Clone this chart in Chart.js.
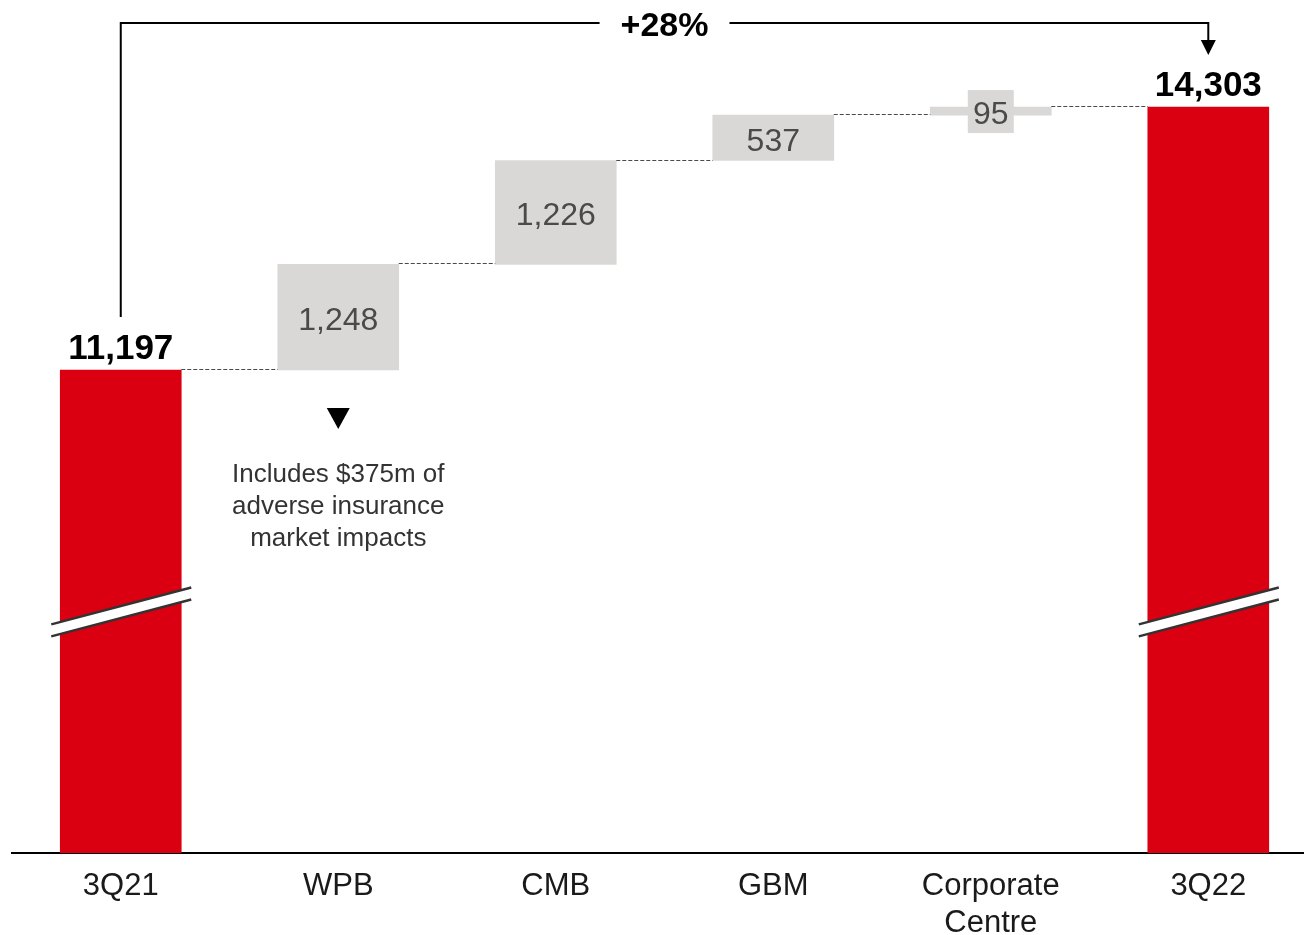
<!DOCTYPE html>
<html>
<head>
<meta charset="utf-8">
<script src="https://cdn.jsdelivr.net/npm/chart.js@4.4.0/dist/chart.umd.min.js"></script>
<style>
  html, body { margin: 0; padding: 0; background: #fff; }
  canvas { display: block; }
</style>
</head>
<body>
<canvas id="waterfall" width="1304" height="935"></canvas>
<script>
// data
const categories = ['3Q21', 'WPB', 'CMB', 'GBM', ['Corporate', 'Centre'], '3Q22'];
const startValue = 11197;
const stepValues = [1248, 1226, 537, 95];
const endValue = 14303;
const valueLabels = ['11,197', '1,248', '1,226', '537', '95', '14,303'];
const noteLines = ['Includes $375m of', 'adverse insurance', 'market impacts'];

// broken value axis
const AXIS_MIN = 5493;
const AXIS_MAX = 15567;
const BREAK_AT = 8340;

const RED = '#DB0011';
const GREY = '#D9D8D6';
const FONT = "'Liberation Sans', Arial, sans-serif";

// build floating bars
const bars = [{ x: 0, y: [AXIS_MIN, startValue] }];
let running = startValue;
stepValues.forEach(function(v, i) {
    bars.push({ x: i + 1, y: [running, running + v] });
    running += v;
});
bars.push({ x: categories.length - 1, y: [AXIS_MIN, endValue] });

const isTotal = bars.map((b, i) => i === 0 || i === bars.length - 1);

const decorPlugin = {
    id: 'decor',
    afterDatasetsDraw(chart) {
        const ctx = chart.ctx;
        const els = chart.getDatasetMeta(0).data;
        const yScale = chart.scales.y;

        // dashed connectors between bars
        ctx.save();
        ctx.strokeStyle = '#4a4a4a';
        ctx.lineWidth = 1;
        ctx.setLineDash([4, 2]);
        for (let i = 0; i < els.length - 1; i++) {
            const py = Math.round(yScale.getPixelForValue(bars[i].y[1])) - 0.5;
            ctx.beginPath();
            ctx.moveTo(els[i].x + els[i].width / 2, py);
            ctx.lineTo(els[i + 1].x - els[i + 1].width / 2, py);
            ctx.stroke();
        }
        ctx.restore();

        // axis break marks on the total bars
        const yc = yScale.getPixelForValue(BREAK_AT);
        els.forEach(function(el, i) {
            if (!isTotal[i]) return;
            const left = el.x - el.width / 2 - 9;
            const right = el.x + el.width / 2 + 10;
            const rise = (right - left) * 0.132;
            ctx.save();
            ctx.fillStyle = '#fff';
            ctx.beginPath();
            ctx.moveTo(left, yc + rise - 6);
            ctx.lineTo(right, yc - rise - 6);
            ctx.lineTo(right, yc - rise + 6);
            ctx.lineTo(left, yc + rise + 6);
            ctx.closePath();
            ctx.fill();
            ctx.strokeStyle = '#333';
            ctx.lineWidth = 2.5;
            [-6, 6].forEach(function(off) {
                ctx.beginPath();
                ctx.moveTo(left, yc + rise + off);
                ctx.lineTo(right, yc - rise + off);
                ctx.stroke();
            });
            ctx.restore();
        });

        // value labels
        els.forEach(function(el, i) {
            ctx.save();
            ctx.textAlign = 'center';
            if (isTotal[i]) {
                ctx.font = 'bold 35px ' + FONT;
                ctx.fillStyle = '#000';
                ctx.textBaseline = 'alphabetic';
                ctx.fillText(valueLabels[i], el.x, el.y - 11);
            } else {
                const mid = (el.y + el.base) / 2;
                if (Math.abs(el.base - el.y) < 40) {
                    ctx.fillStyle = GREY;
                    ctx.fillRect(el.x - 23, mid - 21, 46, 43);
                }
                ctx.font = '32px ' + FONT;
                ctx.fillStyle = '#4a4a4a';
                ctx.textBaseline = 'middle';
                ctx.fillText(valueLabels[i], el.x, mid + 4);
            }
            ctx.restore();
        });

        // growth bracket across the top
        const first = els[0];
        const last = els[els.length - 1];
        const topY = 23;
        const growth = '+' + Math.round((endValue / startValue - 1) * 100) + '%';
        ctx.save();
        ctx.font = 'bold 34px ' + FONT;
        const midX = (first.x + last.x) / 2;
        const half = ctx.measureText(growth).width / 2 + 21;
        const tip = last.y - 52;
        ctx.strokeStyle = '#000';
        ctx.lineWidth = 2;
        ctx.beginPath();
        ctx.moveTo(first.x, first.y - 53);
        ctx.lineTo(first.x, topY);
        ctx.lineTo(midX - half, topY);
        ctx.moveTo(midX + half, topY);
        ctx.lineTo(last.x, topY);
        ctx.lineTo(last.x, tip - 12);
        ctx.stroke();
        ctx.fillStyle = '#000';
        ctx.beginPath();
        ctx.moveTo(last.x - 7.5, tip - 15);
        ctx.lineTo(last.x + 7.5, tip - 15);
        ctx.lineTo(last.x, tip);
        ctx.closePath();
        ctx.fill();
        ctx.textAlign = 'center';
        ctx.textBaseline = 'middle';
        ctx.fillText(growth, midX, topY + 4);
        ctx.restore();

        // note under WPB
        const wpb = els[1];
        ctx.save();
        ctx.fillStyle = '#000';
        ctx.beginPath();
        ctx.moveTo(wpb.x - 11.5, wpb.base + 38);
        ctx.lineTo(wpb.x + 11.5, wpb.base + 38);
        ctx.lineTo(wpb.x, wpb.base + 59);
        ctx.closePath();
        ctx.fill();
        ctx.font = '26px ' + FONT;
        ctx.fillStyle = '#333';
        ctx.textAlign = 'center';
        noteLines.forEach(function(line, k) {
            ctx.fillText(line, wpb.x, wpb.base + 112 + k * 32);
        });
        ctx.restore();
    }
};

new Chart(document.getElementById('waterfall'), {
    type: 'bar',
    data: {
        datasets: [{
            data: bars,
            backgroundColor: isTotal.map(t => t ? RED : GREY),
            borderWidth: 0,
            barThickness: 121
        }]
    },
    options: {
        responsive: false,
        animation: false,
        devicePixelRatio: 1,
        layout: { padding: { left: 12, right: 0, top: 0, bottom: 0 } },
        plugins: {
            legend: { display: false },
            tooltip: { enabled: false }
        },
        scales: {
            x: {
                type: 'linear',
                offset: false,
                min: -0.5,
                max: 5.44,
                grid: { display: false, drawTicks: false, offset: false },
                border: { display: true, color: '#000', width: 2 },
                afterBuildTicks: function(scale) {
                    scale.ticks = categories.map((c, i) => ({ value: i }));
                },
                afterFit: function(scale) {
                    scale.height = 82;
                },
                ticks: {
                    autoSkip: false,
                    maxRotation: 0,
                    padding: 15,
                    color: '#1a1a1a',
                    font: { family: FONT, size: 31 },
                    callback: function(value) {
                        return categories[value];
                    }
                }
            },
            y: {
                display: false,
                min: AXIS_MIN,
                max: AXIS_MAX
            }
        }
    },
    plugins: [decorPlugin]
});
</script>
</body>
</html>
